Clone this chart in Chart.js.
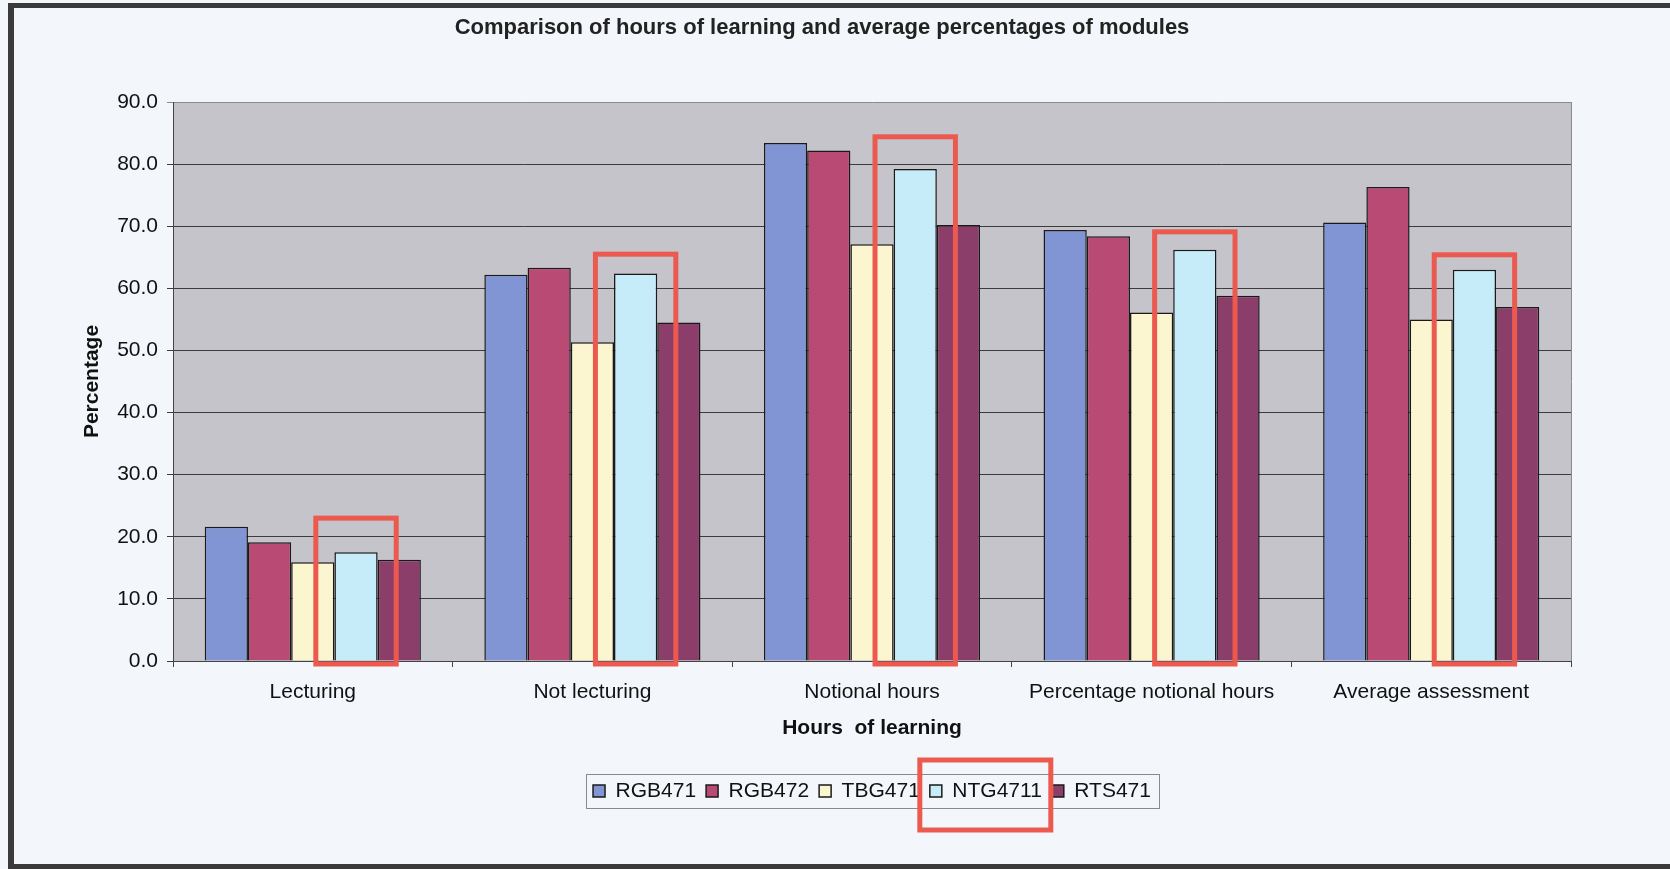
<!DOCTYPE html>
<html>
<head>
<meta charset="utf-8">
<title>Comparison of hours of learning and average percentages of modules</title>
<script src="https://cdn.jsdelivr.net/npm/chart.js@4.4.1/dist/chart.umd.min.js"></script>
<style>
  html, body { margin: 0; padding: 0; background: #f3f7fb; }
  canvas { display: block; }
</style>
</head>
<body>
<canvas id="chart" width="1670" height="869"></canvas>
<script>
const categories = ['Lecturing', 'Not lecturing', 'Notional hours', 'Percentage notional hours', 'Average assessment'];
const rgb471 = [21.6, 62.2, 83.4, 69.4, 70.6];
const rgb472 = [19.1, 63.3, 82.2, 68.4, 76.3];
const tbg471 = [15.9, 51.3, 67.1, 56.1, 55.0];
const ntg4711 = [17.5, 62.4, 79.2, 66.2, 63.0];
const rts471 = [16.3, 54.5, 70.2, 58.8, 57.0];
const yMax = 90;
const yStep = 10;
// top of the red marker drawn round each NTG4711 bar, in percent
const markTops = [23.0, 65.5, 84.4, 69.1, 65.4];

const FONT = '"Liberation Sans", Arial, sans-serif';
const markRed = '#ec5a4f';

const frame = {
  id: 'frame',
  beforeDraw(chart) {
    const { ctx, chartArea: a } = chart;
    ctx.save();
    ctx.fillStyle = '#f3f7fb';
    ctx.fillRect(0, 0, chart.width, chart.height);
    ctx.fillStyle = '#c4c4ca';
    ctx.fillRect(a.left, a.top, a.right - a.left, a.bottom - a.top);
    ctx.restore();
  },
  afterDraw(chart) {
    const { ctx, chartArea: a } = chart;
    ctx.save();

    // plot border on the right
    ctx.strokeStyle = '#8a8a8a';
    ctx.lineWidth = 1;
    ctx.beginPath();
    ctx.moveTo(a.right + 0.5, a.top);
    ctx.lineTo(a.right + 0.5, a.bottom);
    ctx.stroke();

    // title
    ctx.fillStyle = '#222';
    ctx.font = 'bold 22px ' + FONT;
    ctx.textAlign = 'center';
    ctx.textBaseline = 'middle';
    ctx.fillText('Comparison of hours of learning and average percentages of modules', 822, 28);

    // legend box
    const hb = chart.legend.legendHitBoxes;
    const first = hb[0], last = hb[hb.length - 1];
    const cy = first.top + first.height / 2;
    ctx.strokeStyle = '#8a8a8a';
    ctx.strokeRect(Math.round(first.left - 7) + 0.5, Math.round(cy - 17) + 0.5,
      Math.round(last.left + last.width - first.left + 15), 34);

    // red markers round NTG4711
    ctx.strokeStyle = markRed;
    ctx.lineWidth = 5;
    const y = chart.scales.y;
    chart.getDatasetMeta(3).data.forEach((bar, i) => {
      const w = bar.width;
      const top = y.getPixelForValue(markTops[i]);
      const bottom = y.getPixelForValue(0) + 3;
      ctx.strokeRect(bar.x - w * 0.93, top, w * 1.86, bottom - top);
    });
    const h = hb[3];
    const hcy = h.top + h.height / 2;
    ctx.strokeRect(h.left - 10, hcy - 31, h.width + 19, 70);

    // outer frame of the picture
    ctx.fillStyle = '#3a3a3a';
    ctx.fillRect(8, 3, 6, chart.height - 3);
    ctx.fillRect(8, 3, chart.width - 8, 5);
    ctx.fillRect(8, chart.height - 5, chart.width - 8, 5);
    ctx.restore();
  }
};

const series = [
  ['RGB471', rgb471, '#8195d5'],
  ['RGB472', rgb472, '#b94a73'],
  ['TBG471', tbg471, '#fbf6d0'],
  ['NTG4711', ntg4711, '#c6ecfa'],
  ['RTS471', rts471, '#8c3e6a']
];

new Chart(document.getElementById('chart'), {
  type: 'bar',
  data: {
    labels: categories,
    datasets: series.map(([label, data, color]) => ({
      label,
      data,
      backgroundColor: color,
      borderColor: '#1a1a1a',
      borderWidth: 1.5,
      categoryPercentage: 0.773,
      barPercentage: 1.0
    }))
  },
  options: {
    responsive: false,
    animation: false,
    layout: { padding: { top: 102, right: 99, bottom: 57.5, left: 0 } },
    plugins: {
      legend: {
        position: 'bottom',
        fullSize: false,
        labels: {
          boxWidth: 12,
          boxHeight: 12,
          padding: 10,
          color: '#111',
          font: { family: FONT, size: 21 }
        }
      },
      tooltip: { enabled: false }
    },
    scales: {
      x: {
        grid: { drawOnChartArea: false, drawTicks: true, tickLength: 6, color: '#444' },
        border: { display: true, color: '#444' },
        ticks: { color: '#111', padding: 12.5, font: { family: FONT, size: 21 } },
        title: {
          display: true,
          text: 'Hours  of learning',
          color: '#111',
          font: { family: FONT, size: 21, weight: 'bold' },
          padding: { top: 0, bottom: 29.4 }
        },
        afterFit(s) { s.height = 109.5; }
      },
      y: {
        min: 0,
        max: yMax,
        grid: {
          tickLength: 6,
          color: c => (c.tick && c.tick.value === yMax ? '#8a8a8a' : '#3c3c3c')
        },
        border: { display: true, color: '#444' },
        ticks: {
          stepSize: yStep,
          padding: 9,
          color: '#111',
          font: { family: FONT, size: 21 },
          callback: v => v.toFixed(1)
        },
        title: {
          display: true,
          text: 'Percentage',
          color: '#111',
          font: { family: FONT, size: 21, weight: 'bold' },
          padding: { top: 80, bottom: 0 }
        },
        afterFit(s) { s.width = 173; }
      }
    }
  },
  plugins: [frame]
});
</script>
</body>
</html>
